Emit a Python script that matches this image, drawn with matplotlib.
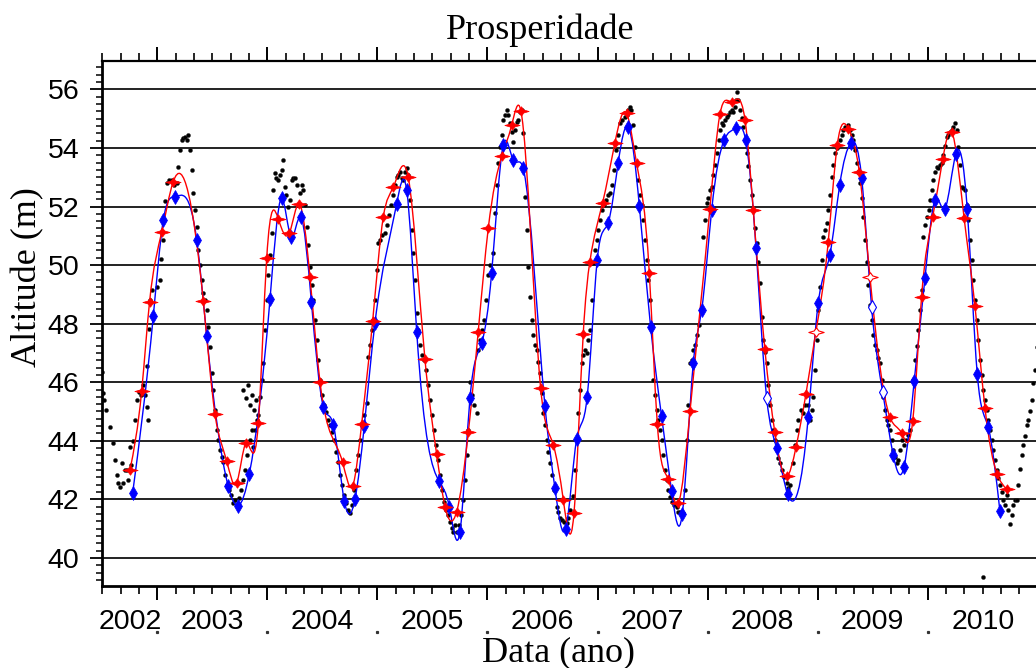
import numpy as np
import matplotlib
matplotlib.use("Agg")
import matplotlib.pyplot as plt
from matplotlib.path import Path
from matplotlib.patches import PathPatch
from matplotlib.ticker import FixedLocator

# ---------------- data (decimal year, altitude m) ----------------
dots = [
 (2002.498,46.35),(2002.509,45.62),(2002.516,45.40),(2002.534,45.05),(2002.570,44.48),(2002.600,43.93),
 (2002.616,43.35),(2002.634,42.84),(2002.646,42.56),(2002.661,42.43),(2002.677,43.25),(2002.691,42.56),
 (2002.707,43.00),(2002.722,43.00),(2002.734,42.67),(2002.752,43.80),(2002.761,43.18),(2002.779,44.00),
 (2002.797,44.70),(2002.816,45.40),(2002.834,45.67),(2002.852,45.56),(2002.870,45.90),(2002.888,45.56),
 (2002.904,45.17),(2002.911,46.55),(2002.918,44.71),(2002.925,47.80),(2002.934,48.80),(2002.952,49.15),
 (2002.995,49.26),(2003.025,49.50),(2003.034,50.20),(2003.055,50.86),(2003.061,51.54),(2003.070,52.20),
 (2003.085,52.80),(2003.106,52.90),(2003.131,52.90),(2003.152,52.73),(2003.176,52.80),(2003.191,53.36),
 (2003.206,53.93),(2003.222,54.27),(2003.236,54.34),(2003.252,54.38),(2003.267,54.27),(2003.282,54.44),
 (2003.297,53.93),(2003.313,53.25),(2003.327,52.45),(2003.343,51.88),(2003.358,51.31),(2003.372,50.51),
 (2003.388,50.00),(2003.403,49.49),(2003.418,49.04),(2003.433,48.80),(2003.449,48.47),(2003.463,47.90),
 (2003.479,47.21),(2003.494,46.31),(2003.506,45.74),(2003.524,45.06),(2003.542,44.37),(2003.554,44.03),
 (2003.570,43.69),(2003.585,43.46),(2003.597,43.28),(2003.615,42.84),(2003.633,42.49),(2003.651,42.33),
 (2003.670,42.15),(2003.690,41.87),(2003.706,41.98),(2003.724,41.80),(2003.742,42.05),(2003.760,42.33),
 (2003.779,42.67),(2003.781,45.74),(2003.797,43.01),(2003.806,45.47),(2003.815,43.52),(2003.824,45.91),
 (2003.842,44.03),(2003.842,45.23),(2003.860,44.37),(2003.860,45.57),(2003.872,43.80),(2003.878,45.06),
 (2003.888,44.37),(2003.897,45.40),(2003.906,44.71),(2003.919,44.88),(2003.933,45.51),(2003.947,46.08),
 (2003.963,46.65),(2003.978,47.78),(2003.994,48.81),(2004.006,49.66),(2004.024,50.34),(2004.039,51.08),
 (2004.054,52.56),(2004.069,53.13),(2004.083,52.97),(2004.099,52.90),(2004.115,53.08),(2004.130,53.25),
 (2004.145,53.59),(2004.160,52.68),(2004.174,52.39),(2004.190,51.99),(2004.206,52.22),(2004.221,52.90),
 (2004.236,52.97),(2004.251,52.96),(2004.269,52.73),(2004.296,52.45),(2004.312,52.73),(2004.326,52.56),
 (2004.342,52.05),(2004.357,51.31),(2004.372,50.69),(2004.387,49.95),(2004.403,49.32),(2004.417,48.81),
 (2004.433,48.13),(2004.448,47.44),(2004.463,46.76),(2004.478,46.08),(2004.496,45.57),(2004.514,45.23),
 (2004.533,44.99),(2004.551,44.71),(2004.569,44.54),(2004.587,44.31),(2004.605,44.03),(2004.623,43.62),
 (2004.642,43.28),(2004.660,42.84),(2004.678,42.49),(2004.696,42.15),(2004.714,41.88),(2004.733,41.64),
 (2004.751,41.52),(2004.769,41.81),(2004.787,42.32),(2004.805,43.01),(2004.823,43.52),(2004.842,44.03),
 (2004.860,44.54),(2004.878,44.88),(2004.902,45.29),(2004.917,46.87),(2004.932,47.27),(2004.948,47.78),
 (2004.964,48.13),(2004.978,48.81),(2004.993,49.83),(2005.008,50.74),(2005.023,50.85),(2005.041,51.02),
 (2005.069,51.08),(2005.087,51.37),(2005.105,51.71),(2005.123,52.05),(2005.141,52.39),(2005.160,52.73),
 (2005.175,53.02),(2005.190,53.07),(2005.205,53.19),(2005.220,52.97),(2005.235,52.90),(2005.250,53.18),
 (2005.266,53.30),(2005.280,53.08),(2005.296,52.22),(2005.311,51.20),(2005.326,50.40),(2005.341,49.49),
 (2005.357,48.35),(2005.371,47.78),(2005.387,47.27),(2005.405,46.93),(2005.423,46.76),(2005.441,46.42),
 (2005.459,45.91),(2005.478,45.40),(2005.496,44.88),(2005.514,44.37),(2005.532,43.86),(2005.550,43.35),
 (2005.569,42.84),(2005.587,42.33),(2005.605,41.92),(2005.623,41.64),(2005.641,41.47),(2005.659,41.24),
 (2005.678,41.03),(2005.689,40.90),(2005.705,41.13),(2005.723,40.89),(2005.741,41.13),(2005.759,41.47),
 (2005.777,41.98),(2005.796,42.67),(2005.814,43.52),(2005.827,44.37),(2005.841,46.02),(2005.859,45.57),
 (2005.878,45.23),(2005.902,44.94),(2005.916,47.10),(2005.932,47.44),(2005.950,47.78),(2005.968,48.13),
 (2005.986,48.81),(2006.004,49.66),(2006.022,50.00),(2006.053,50.40),(2006.068,51.77),(2006.082,52.73),
 (2006.098,53.47),(2006.113,54.04),(2006.129,54.44),(2006.143,54.95),(2006.159,55.12),(2006.174,55.30),
 (2006.189,55.12),(2006.204,54.84),(2006.219,54.54),(2006.234,54.21),(2006.250,54.61),(2006.265,54.88),
 (2006.280,54.95),(2006.295,55.23),(2006.311,55.30),(2006.325,54.50),(2006.341,52.33),(2006.356,51.20),
 (2006.371,49.95),(2006.386,48.92),(2006.401,48.13),(2006.416,47.61),(2006.431,47.27),(2006.447,47.10),
 (2006.462,46.69),(2006.477,46.31),(2006.492,45.63),(2006.507,44.94),(2006.522,44.54),(2006.540,44.03),
 (2006.554,43.62),(2006.568,43.24),(2006.586,42.84),(2006.604,42.32),(2006.629,41.75),(2006.645,41.57),
 (2006.663,41.37),(2006.681,41.30),(2006.699,41.23),(2006.719,41.19),(2006.736,41.37),(2006.754,41.64),
 (2006.779,42.10),(2006.795,43.01),(2006.810,44.03),(2006.825,44.94),(2006.840,45.74),(2006.856,46.65),
 (2006.870,46.93),(2006.886,47.10),(2006.901,46.99),(2006.916,47.44),(2006.931,47.78),(2006.947,48.81),
 (2006.961,50.06),(2006.977,50.51),(2006.995,50.86),(2007.008,51.20),(2007.022,51.54),(2007.040,51.88),
 (2007.058,52.05),(2007.076,52.22),(2007.094,52.39),(2007.113,52.45),(2007.131,52.73),(2007.149,53.25),
 (2007.167,53.93),(2007.185,54.44),(2007.203,54.84),(2007.222,54.95),(2007.249,55.06),(2007.267,55.12),
 (2007.281,55.29),(2007.295,55.41),(2007.308,55.29),(2007.322,54.78),(2007.340,54.04),(2007.354,53.48),
 (2007.370,52.90),(2007.386,52.39),(2007.401,52.05),(2007.415,51.54),(2007.431,50.86),(2007.446,50.18),
 (2007.461,49.49),(2007.476,48.81),(2007.492,47.96),(2007.506,46.08),(2007.522,45.57),(2007.537,45.06),
 (2007.552,44.71),(2007.567,44.37),(2007.582,44.03),(2007.597,43.52),(2007.612,43.01),(2007.628,42.67),
 (2007.642,42.33),(2007.658,42.09),(2007.676,41.92),(2007.694,41.81),(2007.719,41.75),(2007.735,41.57),
 (2007.753,41.57),(2007.779,41.53),(2007.794,42.32),(2007.810,44.03),(2007.824,45.23),(2007.840,46.65),
 (2007.855,46.76),(2007.870,47.10),(2007.885,47.27),(2007.903,47.61),(2007.921,47.96),(2007.946,48.47),
 (2007.960,50.97),(2007.976,51.54),(2007.991,52.11),(2008.008,52.29),(2008.021,52.56),(2008.037,52.68),
 (2008.053,53.08),(2008.067,53.42),(2008.082,53.82),(2008.099,54.27),(2008.112,54.61),(2008.128,54.84),
 (2008.144,54.78),(2008.158,54.95),(2008.173,55.06),(2008.189,55.12),(2008.203,55.23),(2008.219,55.30),
 (2008.233,55.23),(2008.248,55.41),(2008.262,55.63),(2008.269,55.92),(2008.280,55.63),(2008.294,55.29),
 (2008.309,55.02),(2008.324,54.72),(2008.339,54.27),(2008.355,53.82),(2008.369,53.38),(2008.385,52.90),
 (2008.400,52.39),(2008.415,51.88),(2008.430,51.27),(2008.446,50.74),(2008.460,50.11),(2008.476,49.38),
 (2008.491,48.24),(2008.506,47.44),(2008.521,47.03),(2008.537,46.65),(2008.551,45.91),(2008.567,45.23),
 (2008.582,44.71),(2008.597,44.37),(2008.612,44.03),(2008.627,43.69),(2008.642,43.42),(2008.657,43.24),
 (2008.675,43.01),(2008.694,42.77),(2008.718,42.55),(2008.734,42.39),(2008.753,42.50),(2008.778,43.24),
 (2008.794,43.86),(2008.809,44.37),(2008.825,44.71),(2008.844,45.06),(2008.869,44.94),(2008.884,45.23),
 (2008.900,45.57),(2008.916,45.23),(2008.930,44.71),(2008.945,45.06),(2008.960,45.51),(2008.976,46.42),
 (2008.991,47.44),(2009.005,48.47),(2009.021,49.26),(2009.036,50.17),(2009.051,50.97),(2009.066,51.20),
 (2009.082,51.43),(2009.096,51.88),(2009.112,52.39),(2009.127,53.02),(2009.142,53.42),(2009.157,53.82),
 (2009.172,54.00),(2009.187,54.10),(2009.202,54.27),(2009.218,54.44),(2009.233,54.61),(2009.248,54.72),
 (2009.263,54.68),(2009.278,54.78),(2009.293,54.61),(2009.309,54.44),(2009.323,54.27),(2009.339,53.93),
 (2009.354,53.47),(2009.369,53.18),(2009.384,52.79),(2009.400,52.29),(2009.414,51.65),(2009.430,50.86),
 (2009.445,50.11),(2009.460,49.32),(2009.475,48.64),(2009.491,48.13),(2009.505,47.61),(2009.520,47.27),
 (2009.536,47.10),(2009.551,46.83),(2009.566,46.65),(2009.581,46.08),(2009.596,45.51),(2009.611,45.06),
 (2009.627,44.71),(2009.641,44.54),(2009.657,44.37),(2009.672,44.03),(2009.687,43.69),(2009.702,43.45),
 (2009.717,43.24),(2009.734,43.35),(2009.752,43.69),(2009.766,44.03),(2009.784,43.86),(2009.802,44.03),
 (2009.820,44.20),(2009.838,44.37),(2009.854,44.71),(2009.868,46.08),(2009.884,46.76),(2009.899,47.22),
 (2009.914,47.78),(2009.929,48.47),(2009.945,49.15),(2009.959,50.97),(2009.975,51.37),(2009.990,51.65),
 (2010.007,51.88),(2010.021,52.22),(2010.037,52.56),(2010.050,52.90),(2010.066,53.18),(2010.081,53.36),
 (2010.096,53.31),(2010.111,53.42),(2010.126,53.47),(2010.141,53.76),(2010.156,54.06),(2010.172,54.38),
 (2010.186,54.44),(2010.202,54.54),(2010.217,54.61),(2010.232,54.71),(2010.247,54.84),(2010.263,54.61),
 (2010.277,54.04),(2010.293,53.42),(2010.308,52.68),(2010.323,52.63),(2010.338,52.56),(2010.354,52.05),
 (2010.368,51.54),(2010.383,50.86),(2010.399,50.18),(2010.414,49.49),(2010.429,48.81),(2010.444,48.13),
 (2010.459,47.44),(2010.474,46.76),(2010.490,46.25),(2010.504,45.74),(2010.520,45.40),(2010.535,45.06),
 (2010.550,44.71),(2010.565,44.37),(2010.580,44.03),(2010.595,43.69),(2010.610,43.35),(2010.626,43.01),
 (2010.641,42.74),(2010.656,42.49),(2010.671,42.26),(2010.686,41.98),(2010.701,41.81),(2010.717,42.15),
 (2010.731,41.64),(2010.746,41.16),(2010.762,41.47),(2010.777,41.81),(2010.792,41.98),(2010.808,41.96),
 (2010.822,42.49),(2010.838,43.05),(2010.853,43.52),(2010.868,43.86),(2010.883,44.15),(2010.898,44.54),
 (2010.913,44.71),(2010.928,45.00),(2010.944,45.40),(2010.959,45.98),(2010.975,46.42),(2010.990,47.20),
 (2010.499,39.36),
]

red_pts = [
 (2002.752,43.01),(2002.858,45.70),(2002.930,48.75),(2003.040,51.12),(2003.145,52.85),(2003.418,48.77),
 (2003.524,44.92),(2003.630,43.32),(2003.720,42.55),(2003.806,43.92),(2003.918,44.60),(2003.994,50.23),
 (2004.100,51.57),(2004.200,51.09),(2004.290,52.09),(2004.387,49.60),(2004.478,46.02),(2004.684,43.26),
 (2004.775,42.46),(2004.857,44.58),(2004.957,48.10),(2005.053,51.63),(2005.144,52.66),(2005.280,53.00),
 (2005.432,46.78),(2005.538,43.55),(2005.614,41.75),(2005.720,41.58),(2005.826,44.29),(2005.916,47.73),
 (2006.007,51.25),(2006.130,53.72),(2006.220,54.78),(2006.304,55.26),(2006.483,45.80),(2006.598,43.86),
 (2006.689,41.98),(2006.786,41.53),(2006.870,47.65),(2006.930,50.11),(2007.046,52.13),(2007.158,54.18),
 (2007.264,55.18),(2007.355,53.47),(2007.470,49.74),(2007.543,44.58),(2007.642,42.69),(2007.733,41.87),
 (2007.840,45.00),(2008.020,51.90),(2008.112,55.15),(2008.218,55.58),(2008.340,54.95),(2008.415,51.88),
 (2008.520,47.13),(2008.610,44.31),(2008.718,42.78),(2008.803,43.78),(2008.893,45.59),(2008.984,47.73),
 (2009.096,50.80),(2009.178,54.10),(2009.280,54.65),(2009.378,53.19),(2009.475,49.60),(2009.657,44.80),
 (2009.763,44.26),(2009.863,44.66),(2009.944,48.92),(2010.045,51.65),(2010.136,53.61),(2010.217,54.55),
 (2010.330,51.62),(2010.429,48.60),(2010.520,45.13),(2010.630,42.87),(2010.717,42.35),
]
red_hollow = [(2008.984,47.73),(2009.475,49.60)]

blue_pts = [
 (2002.776,42.21),(2002.964,48.27),(2003.055,51.54),(2003.160,52.34),(2003.358,50.86),(2003.449,47.59),
 (2003.645,42.44),(2003.736,41.78),(2003.836,42.87),(2004.024,48.83),(2004.130,52.28),(2004.215,50.97),
 (2004.303,51.65),(2004.400,48.75),(2004.508,45.17),(2004.600,44.54),(2004.700,41.93),(2004.796,42.00),
 (2004.880,44.49),(2004.978,48.03),(2005.175,52.09),(2005.266,52.56),(2005.357,47.73),(2005.562,42.61),
 (2005.653,41.75),(2005.750,40.90),(2005.841,45.45),(2005.947,47.33),(2006.038,49.74),(2006.143,54.10),
 (2006.234,53.59),(2006.325,53.30),(2006.522,45.19),(2006.613,42.38),(2006.710,40.99),(2006.810,44.05),
 (2006.906,45.51),(2006.997,50.17),(2007.097,51.45),(2007.188,53.50),(2007.280,54.72),(2007.380,52.02),
 (2007.482,47.90),(2007.582,44.83),(2007.672,42.30),(2007.770,41.50),(2007.870,46.65),(2007.946,48.47),
 (2008.037,51.88),(2008.150,54.27),(2008.257,54.67),(2008.346,54.27),(2008.440,50.57),(2008.537,45.45),
 (2008.627,43.75),(2008.727,42.18),(2008.914,44.80),(2009.005,48.70),(2009.110,50.34),(2009.200,52.73),
 (2009.300,54.16),(2009.400,52.96),(2009.490,48.56),(2009.590,45.68),(2009.686,43.52),(2009.784,43.10),
 (2009.877,46.04),(2009.975,49.55),(2010.065,52.22),(2010.156,51.93),(2010.256,53.80),(2010.359,51.90),
 (2010.450,46.28),(2010.550,44.46),(2010.656,41.59),
]
blue_hollow = [(2008.537,45.45),(2009.490,48.56),(2009.590,45.68)]

year_ticks = [2003, 2004, 2005, 2006, 2007, 2008, 2009, 2010]
year_labels = ["2002", "2003", "2004", "2005", "2006", "2007", "2008", "2009", "2010"]
label_pos = [2002.75, 2003.5, 2004.5, 2005.5, 2006.5, 2007.5, 2008.5, 2009.5, 2010.5]
y_ticks = [40, 42, 44, 46, 48, 50, 52, 54, 56]

# ---------------- helpers ----------------
def spline_path(pts):
    """Natural cubic spline through the points, expressed as Bezier segments."""
    t = np.array([p[0] for p in pts], float)
    h = np.array([p[1] for p in pts], float)
    n = len(t)
    d = np.diff(t)
    A = np.zeros((n, n)); b = np.zeros(n)
    A[0, 0] = 1; A[-1, -1] = 1
    for i in range(1, n - 1):
        A[i, i - 1] = d[i - 1]; A[i, i] = 2 * (d[i - 1] + d[i]); A[i, i + 1] = d[i]
        b[i] = 6 * ((h[i + 1] - h[i]) / d[i] - (h[i] - h[i - 1]) / d[i - 1])
    M = np.linalg.solve(A, b)
    verts = [(t[0], h[0])]; codes = [Path.MOVETO]
    for i in range(n - 1):
        dx = d[i]; sl = (h[i + 1] - h[i]) / dx
        s0 = sl - dx * (2 * M[i] + M[i + 1]) / 6
        s1 = sl + dx * (M[i] + 2 * M[i + 1]) / 6
        verts += [(t[i] + dx / 3, h[i] + s0 * dx / 3),
                  (t[i + 1] - dx / 3, h[i + 1] - s1 * dx / 3),
                  (t[i + 1], h[i + 1])]
        codes += [Path.CURVE4] * 3
    return Path(verts, codes)

star = Path([(-1, 0), (-0.3, 0.2), (0, 0.62), (0.3, 0.2), (1, 0),
             (0.3, -0.2), (0, -0.62), (-0.3, -0.2), (-1, 0)], closed=True)

# ---------------- figure ----------------
fig = plt.figure(figsize=(10.36, 6.68), dpi=100)
ax = fig.add_axes([101.7 / 1036, 82.3 / 668, (1037.8 - 101.7) / 1036, 525.0 / 668])

ax.set_xlim(2002.495, 2011.0)
ax.set_ylim(39.05, 56.98)

for v in y_ticks:
    ax.axhline(v, color="#111111", lw=1.3, zorder=1)

dt, dh = zip(*dots)

ax.add_patch(PathPatch(spline_path(blue_pts), fill=False, edgecolor="#0000ff", lw=1.0, zorder=3))
ax.add_patch(PathPatch(spline_path(red_pts), fill=False, edgecolor="#ff0000", lw=1.0, zorder=3))

ax.plot(dt, dh, ls="none", marker="o", ms=2.9, mfc="black", mec="#222222", mew=0.3, zorder=2)

solid_r = [p for p in red_pts if p not in red_hollow]
solid_b = [p for p in blue_pts if p not in blue_hollow]
ax.plot(*zip(*solid_b), ls="none", marker="d", ms=7, mfc="#0000ff", mec="#0000ff", mew=0.5, zorder=4)
ax.plot(*zip(*blue_hollow), ls="none", marker="d", ms=7, mfc="white", mec="#0000ff", mew=0.8, zorder=4)
ax.plot(*zip(*solid_r), ls="none", marker=star, ms=11, mfc="#ff0000", mec="#ff0000", mew=0.5, zorder=4)
ax.plot(*zip(*red_hollow), ls="none", marker=star, ms=11, mfc="white", mec="#ff0000", mew=0.8, zorder=4)

# ticks
ax.xaxis.set_major_locator(FixedLocator(year_ticks))
ax.xaxis.set_minor_locator(FixedLocator(np.arange(2002.5, 2011.01, 1 / 6)))
ax.yaxis.set_major_locator(FixedLocator(y_ticks))
ax.yaxis.set_minor_locator(FixedLocator(np.arange(39.25, 57.0, 0.25)))
ax.tick_params(axis="x", which="major", direction="out", length=10, width=1.4,
               top=True, bottom=True, labelbottom=False, color="black")
ax.tick_params(axis="x", which="minor", direction="out", length=5.5, width=1.2,
               top=True, bottom=True, color="black")
ax.tick_params(axis="y", which="major", direction="out", length=9, width=1.3,
               left=True, right=False, pad=7, labelsize=20.5)
ax.tick_params(axis="y", which="minor", direction="out", length=4, width=1.1,
               left=True, right=False)
for lab in ax.get_yticklabels():
    lab.set_fontfamily("Liberation Sans")

for s in ["left", "bottom"]:
    ax.spines[s].set_linewidth(2.0)
ax.spines["top"].set_linewidth(1.6)
ax.spines["right"].set_visible(False)

# year labels centred in each year
xtr = ax.get_xaxis_transform()
for pos, lab in zip(label_pos, year_labels):
    ax.annotate(lab, xy=(pos, 0), xycoords=xtr, xytext=(0, -17), textcoords="offset points",
                ha="center", va="top", fontsize=20.5, family="Liberation Sans", annotation_clip=False)
ax.plot(year_ticks, [-0.088] * len(year_ticks), transform=xtr, ls="none", marker="s",
        ms=1.3, color="#333333", clip_on=False)

fig.text(540 / 1036, 1 - 30 / 668, "Prosperidade", ha="center", va="center",
         fontsize=26, family="Liberation Serif")
fig.text(559 / 1036, 1 - 653 / 668, "Data (ano)", ha="center", va="center",
         fontsize=26, family="Liberation Serif")
fig.text(28 / 1036, 1 - 277 / 668, "Altitude (m)", ha="center", va="center", rotation=90,
         fontsize=26, family="Liberation Serif")

fig.savefig("out.png", dpi=100)
